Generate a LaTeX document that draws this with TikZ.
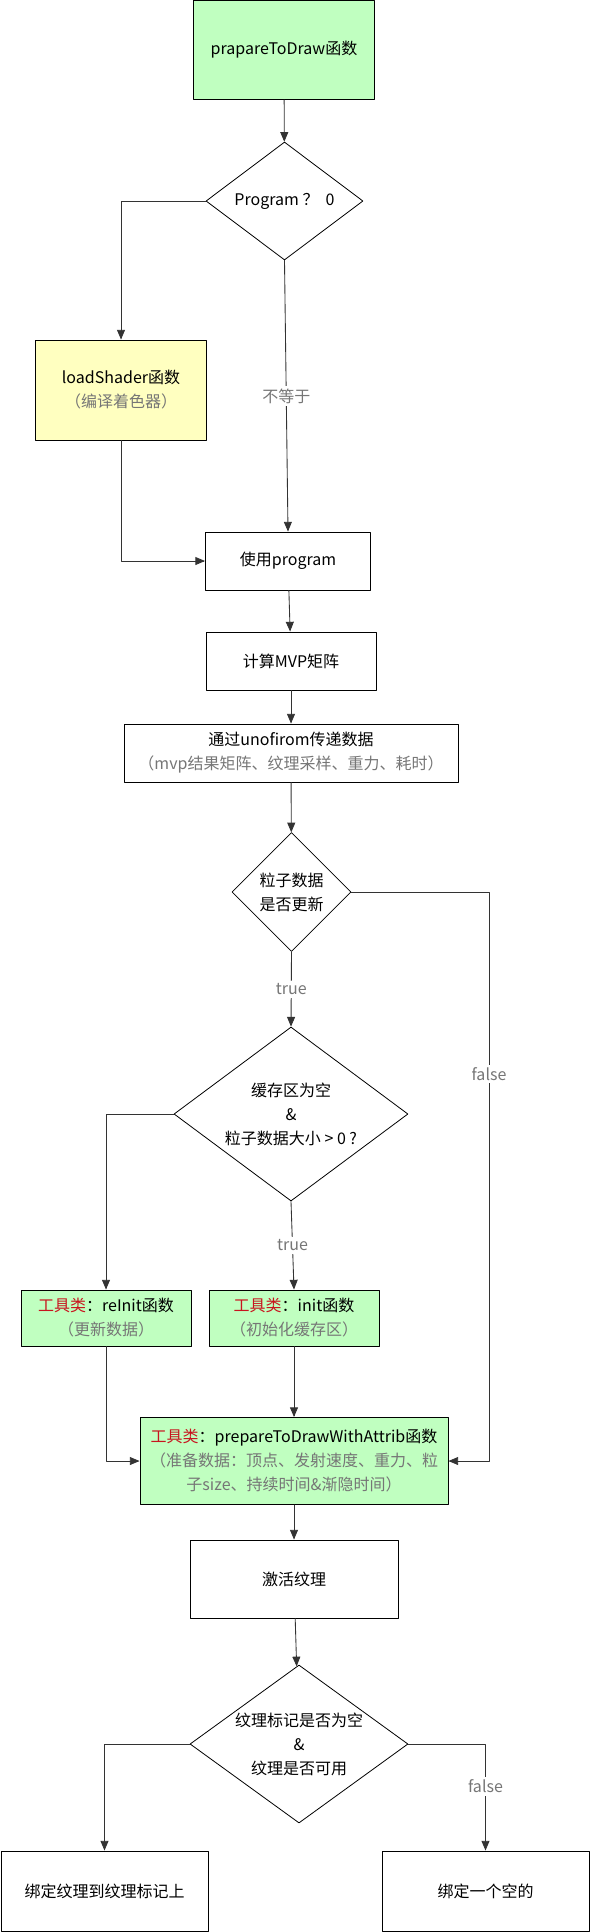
\documentclass[tikz,border=0pt]{standalone}
\usepackage{fontspec}
\setmainfont{Noto Sans CJK SC}
\usetikzlibrary{arrows}
\usetikzlibrary{shapes.geometric}
\definecolor{boxgreen}{RGB}{192,255,192}
\definecolor{boxyellow}{RGB}{255,255,192}
\definecolor{notegray}{RGB}{118,118,118}
\definecolor{toolred}{RGB}{200,20,30}
\newcommand{\sub}[1]{{\color{notegray}#1}}
\newcommand{\tool}{{\color{toolred}工具类}：}
\tikzset{
  box/.style={draw,rectangle,line width=0.75pt,align=center,inner sep=2pt,
    font=\fontsize{12pt}{18pt}\selectfont},
  greenbox/.style={box,fill=boxgreen},
  yellowbox/.style={box,fill=boxyellow},
  decision/.style={draw,diamond,line width=0.6pt,align=center,inner sep=0pt,
    font=\fontsize{12pt}{18pt}\selectfont},
  lbl/.style={fill=white,text=notegray,inner sep=2pt,
    font=\fontsize{12pt}{14pt}\selectfont},
  link/.style={->,line width=0.65pt,draw=black!80}
}
\begin{document}
\begin{tikzpicture}[line cap=round,line join=round,>=triangle 45,x=0.75pt,y=-0.75pt]
\useasboundingbox (0,0) rectangle (590,1932);
\node[greenbox,minimum width=135.75pt,minimum height=74.25pt] (start) at (284,50) {prapareToDraw函数};
\node[decision,minimum width=117.75pt,minimum height=88.5pt,aspect=1.33] (prog) at (284.5,201) {Program ？\ \ 0};
\node[yellowbox,minimum width=128.25pt,minimum height=75pt] (shader) at (121,390) {loadShader函数\\\sub{（编译着色器）}};
\node[box,minimum width=123.75pt,minimum height=43.5pt] (use) at (288,561) {使用program};
\node[box,minimum width=127.5pt,minimum height=43.5pt] (mvp) at (291,661) {计算MVP矩阵};
\node[box,minimum width=250.5pt,minimum height=43.5pt] (uniform) at (291,753) {通过unofirom传递数据\\\sub{（mvp结果矩阵、纹理采样、重力、耗时）}};
\node[decision,minimum width=89.25pt,minimum height=89.25pt,aspect=1] (update) at (291.5,892) {粒子数据\\是否更新};
\node[decision,minimum width=175.5pt,minimum height=130.5pt,aspect=1.34] (buffer) at (291,1114) {缓存区为空\\\&\\粒子数据大小 > 0 ?};
\node[greenbox,minimum width=127.5pt,minimum height=42pt] (reinit) at (106,1318) {\tool reInit函数\\\sub{（更新数据）}};
\node[greenbox,minimum width=127.5pt,minimum height=42pt] (init) at (294,1318) {\tool init函数\\\sub{（初始化缓存区）}};
\node[greenbox,minimum width=231pt,minimum height=65.25pt] (prep) at (294,1461) {\tool prepareToDrawWithAttrib函数\\\sub{（准备数据：顶点、发射速度、重力、粒}\\\sub{子size、持续时间\&渐隐时间）}};
\node[box,minimum width=156pt,minimum height=58.5pt] (texture) at (294,1579) {激活纹理};
\node[decision,minimum width=163.5pt,minimum height=118.5pt,aspect=1.38] (check) at (299,1744) {纹理标记是否为空\\\&\\纹理是否可用};
\node[box,minimum width=155.25pt,minimum height=60pt] (bindtex) at (104.5,1891) {绑定纹理到纹理标记上};
\node[box,minimum width=155.25pt,minimum height=60pt] (bindnull) at (485.5,1891) {绑定一个空的};
\coordinate (falsetop) at (489,892);
\draw[link] (start) -- (prog);
\draw[link] (prog.west) -| (shader.north);
\draw[link] (prog.south) -- node[lbl]{不等于} (use.north);
\draw[link] (shader.south) |- (use.west);
\draw[link] (use) -- (mvp);
\draw[link] (mvp) -- (uniform);
\draw[link] (uniform) -- (update);
\draw[link] (update.south) -- node[lbl]{true} (buffer.north);
\draw[link] (update.east) -- (falsetop) -- node[lbl,pos=0.32]{false} (falsetop|-prep.east) -- (prep.east);
\draw[link] (buffer.west) -| (reinit.north);
\draw[link] (buffer.south) -- node[lbl]{true} (init.north);
\draw[link] (reinit.south) |- (prep.west);
\draw[link] (init) -- (prep);
\draw[link] (prep) -- (texture);
\draw[link] (texture) -- (check);
\draw[link] (check.west) -| (bindtex.north);
\draw[link] (check.east) -| node[lbl,pos=0.7]{false} (bindnull.north);
\end{tikzpicture}
\end{document}
